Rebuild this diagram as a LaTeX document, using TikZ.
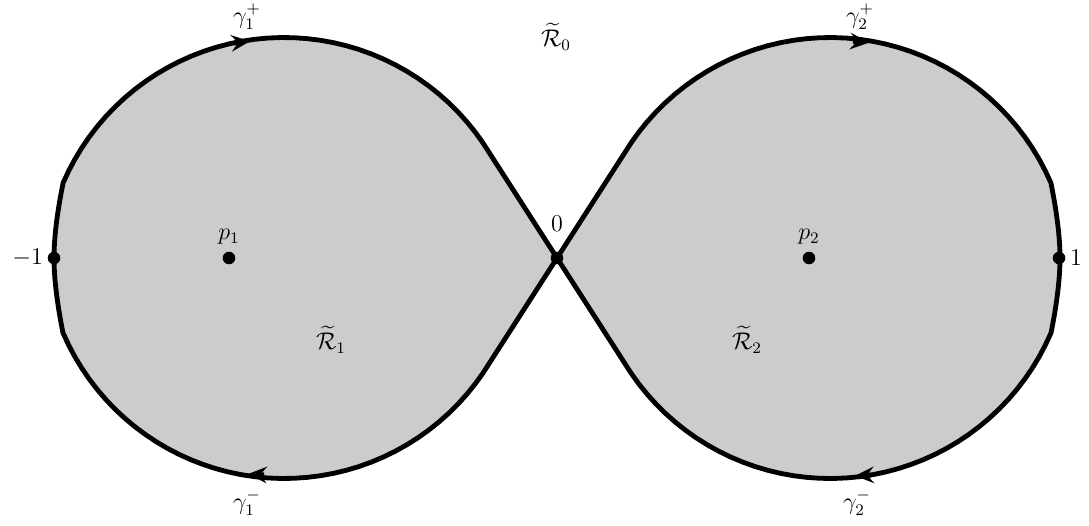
\documentclass[tikz,border=0pt]{standalone}
\usepackage{amsmath,amssymb}
\usepackage{xcolor}
\usepackage{tikz}
\usetikzlibrary{arrows.meta}
\definecolor{lobefill}{HTML}{CCCCCC}

\begin{document}
\begin{tikzpicture}[x=0.0175cm,y=-0.0175cm,
lobe/.style={line width=2.4pt,fill=lobefill,line join=round},
orient/.style={line width=2.4pt,-{Stealth[length=3.3mm,width=2.9mm,inset=1.2mm]}},
dot/.style={circle,fill=black,inner sep=0pt,minimum size=2.2mm},
lbl/.style={inner sep=1pt,font=\large}
]
\useasboundingbox (0,0) rectangle (1089,525);
% left lobe, mirrored for the right one
\filldraw[lobe] (557,258) -- (483,143)
  -- plot[domain=325.8:203.3,samples=40] ({284+240.5*cos(\x)},{278+240.5*sin(\x)})
  .. controls (58,208) and (54,235) .. (54,258)
  .. controls (54,281) and (58,308) .. (63,333)
  -- plot[domain=156.7:34.2,samples=40] ({284+240.5*cos(\x)},{238+240.5*sin(\x)})
  -- cycle;
\begin{scope}[shift={(1114,0)},xscale=-1]
\filldraw[lobe] (557,258) -- (483,143)
  -- plot[domain=325.8:203.3,samples=40] ({284+240.5*cos(\x)},{278+240.5*sin(\x)})
  .. controls (58,208) and (54,235) .. (54,258)
  .. controls (54,281) and (58,308) .. (63,333)
  -- plot[domain=156.7:34.2,samples=40] ({284+240.5*cos(\x)},{238+240.5*sin(\x)})
  -- cycle;
\end{scope}
% orientation
\draw[orient] (234,43) -- (250,41.3);
\draw[orient] (264,474.8) -- (248,474);
\draw[orient] (853,41.3) -- (869,42.7);
\draw[orient] (871,475) -- (855,475.8);
% points
\node[dot] (m1) at (54,258) {};
\node[dot] (z) at (557,258) {};
\node[dot] (one) at (1059,258) {};
\node[dot] (p1) at (229,258) {};
\node[dot] (p2) at (809,258) {};
\node[lbl,left=1pt] at (m1.west) {$-1$};
\node[lbl,right=1pt] at (one.east) {$1$};
\node[lbl] at (557,224) {$0$};
\node[lbl] at (229,237) {$p_1$};
\node[lbl] at (809,237) {$p_2$};
% regions and curves
\node[lbl] at (556,37) {$\widetilde{\mathcal{R}}_0$};
\node[lbl] at (331,340) {$\widetilde{\mathcal{R}}_1$};
\node[lbl] at (747,340) {$\widetilde{\mathcal{R}}_2$};
\node[lbl] at (247,17) {$\gamma_1^+$};
\node[lbl] at (247,503) {$\gamma_1^-$};
\node[lbl] at (860,17) {$\gamma_2^+$};
\node[lbl] at (857,503) {$\gamma_2^-$};
\end{tikzpicture}
\end{document}
